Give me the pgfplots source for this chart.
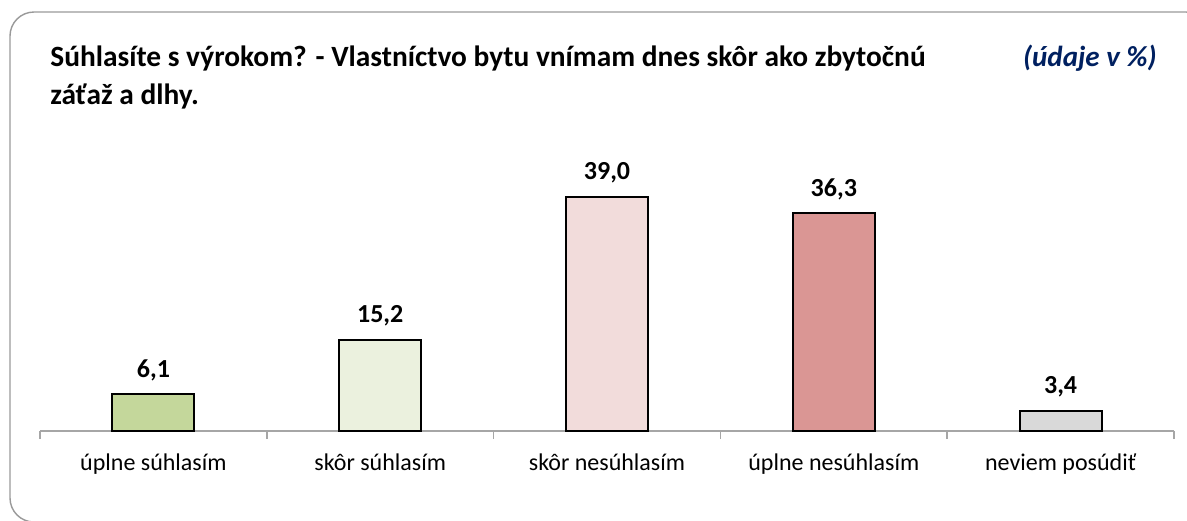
\documentclass[border=0pt]{standalone}
\usepackage{pgfplots}
\pgfplotsset{compat=1.18}
\usepackage{fontspec}
\setmainfont{Carlito}
\definecolor{navy}{HTML}{002060}
\definecolor{cA}{HTML}{C4D79B}
\definecolor{cB}{HTML}{EBF1DE}
\definecolor{cC}{HTML}{F2DCDB}
\definecolor{cD}{HTML}{DA9694}
\definecolor{cE}{HTML}{D9D9D9}
\definecolor{axgray}{HTML}{A6A6A6}
\begin{document}
\begin{tikzpicture}
\path[use as bounding box] (0,0) rectangle (593.5pt,-260pt);
\draw[color=black!40, line width=0.7pt, rounded corners=12pt] (5pt,-6pt) rectangle (605pt,-261pt);
\node[anchor=base west, inner sep=0pt, font=\bfseries\fontsize{14.7}{17}\selectfont] at (25pt,-33pt) {Súhlasíte s výrokom? - Vlastníctvo bytu vnímam dnes skôr ako zbytočnú};
\node[anchor=base west, inner sep=0pt, font=\bfseries\fontsize{14.7}{17}\selectfont] at (25pt,-52pt) {záťaž a dlhy.};
\node[anchor=base east, inner sep=0pt, font=\bfseries\itshape\fontsize{14.5}{17}\selectfont, text=navy] at (578.5pt,-33pt) {(údaje v \%)};
\begin{axis}[
  at={(20pt,-215.5pt)}, anchor=south west,
  width=567pt, height=150pt, scale only axis,
  xmin=-0.5, xmax=4.5, ymin=0, ymax=50,
  axis x line*=bottom, hide y axis,
  axis line style={draw=axgray, line width=0.8pt},
  xtick={0,1,2,3,4},
  xticklabels={úplne súhlasím, skôr súhlasím, skôr nesúhlasím, úplne nesúhlasím, neviem posúdiť},
  major tick length=0pt,
  extra x ticks={-0.5,0.5,1.5,2.5,3.5,4.5},
  extra x tick labels={},
  extra x tick style={major tick length=4pt, tick align=outside, tick style={draw=axgray, line width=0.8pt}},
  xticklabel style={font=\fontsize{12}{14}\selectfont, yshift=-8pt},
  ybar, bar width=41pt, bar shift=0pt,
  nodes near coords,
  every node near coord/.append style={font=\bfseries\fontsize{13}{15}\selectfont, yshift=3pt},
  /pgf/number format/.cd, fixed, fixed zerofill, precision=1, use comma, assume math mode=true,
]
\addplot[draw=black, line width=1pt, fill=cA] coordinates {(0,6.1)};
\addplot[draw=black, line width=1pt, fill=cB] coordinates {(1,15.2)};
\addplot[draw=black, line width=1pt, fill=cC] coordinates {(2,39.0)};
\addplot[draw=black, line width=1pt, fill=cD] coordinates {(3,36.3)};
\addplot[draw=black, line width=1pt, fill=cE] coordinates {(4,3.4)};
\end{axis}
\end{tikzpicture}
\end{document}
